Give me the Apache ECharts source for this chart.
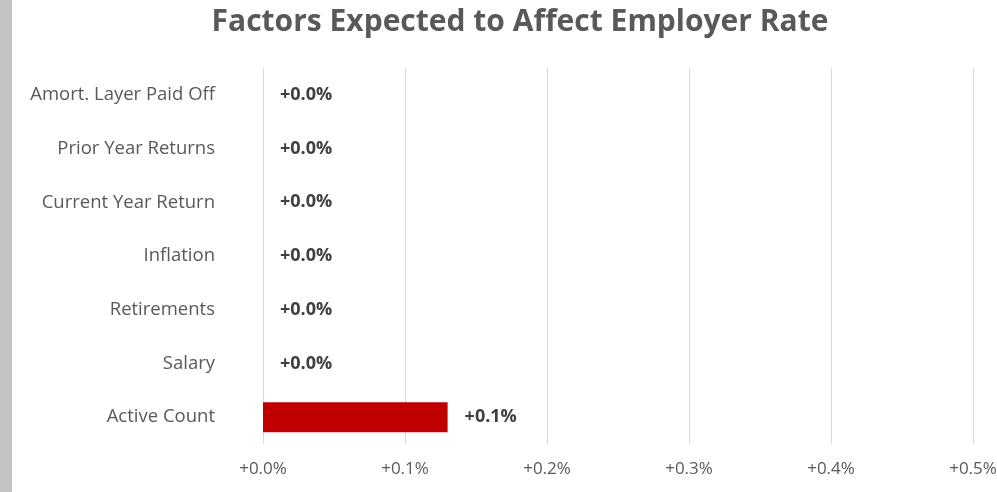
<!DOCTYPE html>
<html><head><meta charset="utf-8">
<script src="https://cdn.jsdelivr.net/npm/echarts@6/dist/echarts.min.js"></script>
<style>html,body{margin:0;padding:0;background:#fff}#c{width:997px;height:492px}
#strip{position:absolute;left:0;top:0;width:12px;height:492px;background:#c3c3c3}</style>
</head><body><div id="strip"></div><div id="c"></div>
<script>
const categories = ["Active Count","Salary","Retirements","Inflation","Current Year Return","Prior Year Returns","Amort. Layer Paid Off"];
const values = [0.13, 0, 0, 0, 0, 0, 0];
const valueLabels = ["+0.1%","+0.0%","+0.0%","+0.0%","+0.0%","+0.0%","+0.0%"];
const xTicks = [0, 0.1, 0.2, 0.3, 0.4, 0.5];
const font = "'Open Sans', 'Liberation Sans', sans-serif";
const chart = echarts.init(document.getElementById('c'));
chart.setOption({
  animation:false,
  title:{text:'Factors Expected to Affect Employer Rate',left:515,textAlign:'center',top:2,
    textStyle:{fontFamily:font,fontSize:30,fontWeight:'bold',color:'#595959'}},
  grid:{left:263,right:24,top:68,bottom:48,containLabel:false,outerBoundsMode:'none'},
  xAxis:{type:'value',min:0,max:0.5,interval:0.1,
    axisLine:{show:false},axisTick:{show:false},
    splitLine:{lineStyle:{color:'#d9d9d9',width:1}},
    axisLabel:{margin:17,color:'#595959',fontFamily:font,fontSize:17,
      formatter:v=>'+'+v.toFixed(1)+'%'}},
  yAxis:{type:'category',data:categories,axisLine:{show:false},axisTick:{show:false},
    axisLabel:{margin:48,color:'#595959',fontFamily:font,fontSize:18.5}},
  series:[{type:'bar',data:values,barWidth:30,
    itemStyle:{color:'#c00000'},
    label:{show:true,position:'right',distance:17,color:'#404040',fontWeight:'bold',
      fontFamily:font,fontSize:18,formatter:p=>valueLabels[p.dataIndex]}}]
});
</script></body></html>
